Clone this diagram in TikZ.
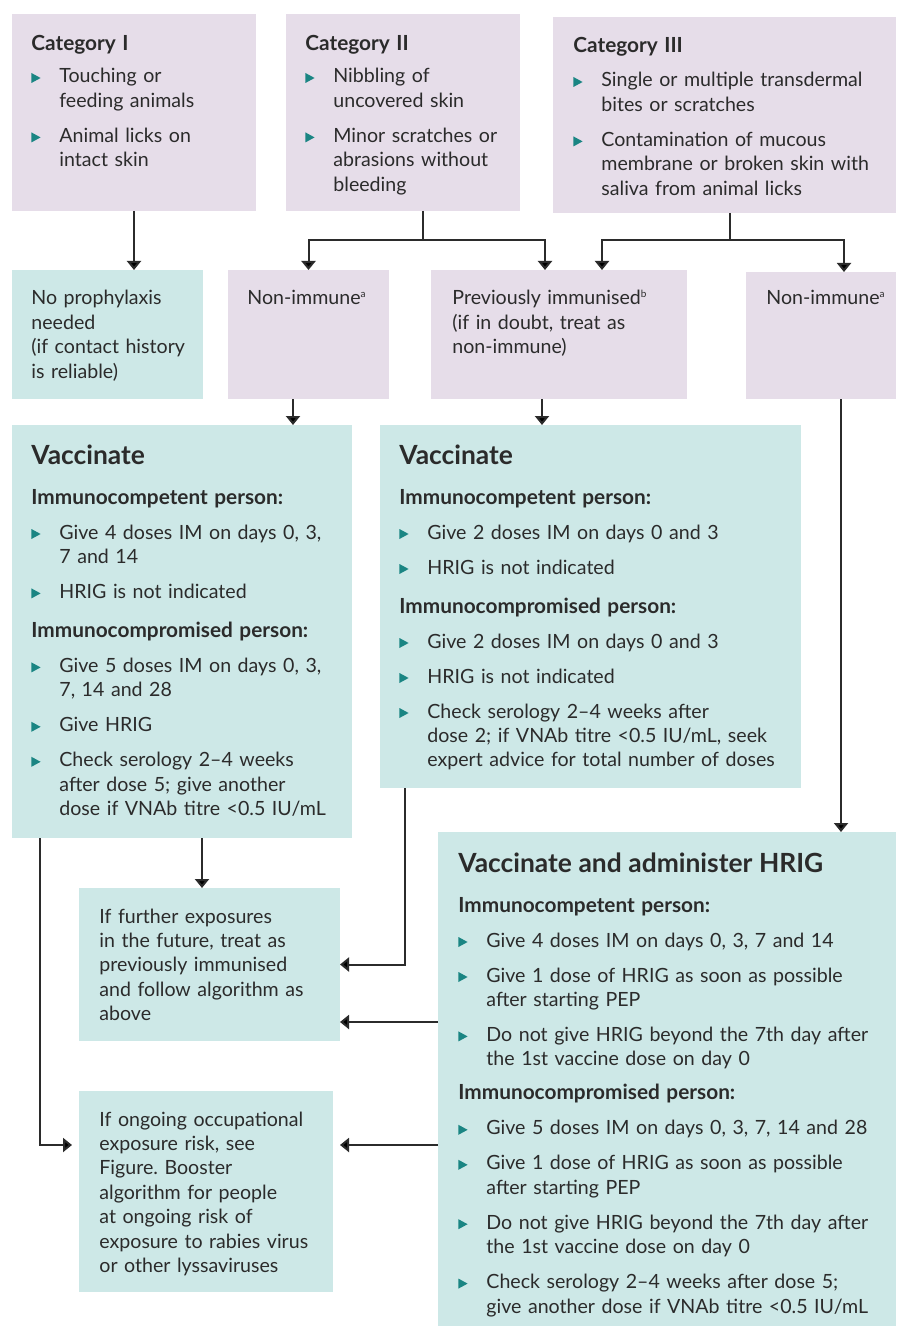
\documentclass[tikz,border=0pt]{standalone}
\usepackage{fontspec}
\setmainfont{Lato}
\usetikzlibrary{arrows.meta}
\frenchspacing

\definecolor{lilac}{HTML}{E6DDE9}
\definecolor{mint}{HTML}{CDE8E7}
\definecolor{bulcol}{HTML}{1A8583}
\definecolor{ink}{HTML}{2B2B2B}

% bullet and list helpers
\newcommand\bul{\tikz\fill[bulcol] (0pt,0pt) -- (0pt,5pt) -- (4.6pt,2.5pt) -- cycle;}
\newcommand\itm[2][5.3pt]{\par\vspace{#1}\noindent\hangindent=14pt\hangafter=1\makebox[14pt][l]{\bul}{\let\\\newline #2}\par}
\newcommand\bftitle[1]{{\fontsize{10.4}{12.2}\selectfont\bfseries #1}}
\newcommand\sub[2][7.3pt]{\par\vspace{#1}\noindent\bftitle{#2}\par}
\newcommand\head[1]{\noindent{\fontsize{13.2}{14}\selectfont\bfseries #1}\par}

\tikzset{
  lbox/.style={fill=lilac, anchor=north west, inner sep=0pt, outer sep=0pt},
  tbox/.style={fill=mint, anchor=north west, inner sep=0pt, outer sep=0pt},
  txt/.style={anchor=base west, inner sep=0pt, text=ink,
    font=\fontsize{9.8}{12.2}\selectfont\frenchspacing, execute at begin node=\raggedright},
  arr/.style={draw=ink, line width=1pt, -{Triangle[width=7pt,length=4.5pt]}},
  line/.style={draw=ink, line width=1pt}
}

\begin{document}
\begin{tikzpicture}[x=0.5pt, y=-0.5pt]
  \useasboundingbox[fill=white] (0,0) rectangle (896,1326);

  % Categories
  \node[lbox, minimum width=122pt, minimum height=98.5pt] (cat1) at (12,14) {};
  \node[txt, text width=112pt] (cat1t) at ([shift={(19,37)}]cat1.north west)
    {\bftitle{Category I}
     \itm[3.8pt]{Touching or\\feeding animals}
     \itm{Animal licks on\\intact skin}};

  \node[lbox, minimum width=117pt, minimum height=98.5pt] (cat2) at (286,14) {};
  \node[txt, text width=108pt] (cat2t) at ([shift={(19,37)}]cat2.north west)
    {\bftitle{Category II}
     \itm[3.8pt]{Nibbling of\\uncovered skin}
     \itm{Minor scratches or\\abrasions without\\bleeding}};

  \node[lbox, minimum width=171.5pt, minimum height=98pt] (cat3) at (553,17) {};
  \node[txt, text width=160pt] (cat3t) at ([shift={(20,36)}]cat3.north west)
    {\bftitle{Category III}
     \itm[4.8pt]{Single or multiple transdermal\\bites or scratches}
     \itm{Contamination of mucous\\membrane or broken skin with\\saliva from animal licks}};

  % Immune status
  \node[tbox, minimum width=95.5pt, minimum height=64.5pt] (nopro) at (12,270) {};
  \node[txt, text width=88pt] (noprot) at ([shift={(19,35)}]nopro.north west)
    {No prophylaxis\\needed\\(if contact history\\is reliable)};

  \node[lbox, minimum width=80.5pt, minimum height=64.5pt] (nonL) at (228,270) {};
  \node[txt, text width=70pt] (nonLt) at ([shift={(19,35)}]nonL.north west)
    {Non-immune\textsuperscript{\tiny a}};

  \node[lbox, minimum width=128pt, minimum height=64.5pt] (prev) at (431,270) {};
  \node[txt, text width=118pt] (prevt) at ([shift={(21,35)}]prev.north west)
    {Previously immunised\textsuperscript{\tiny b}\\(if in doubt, treat as\\non-immune)};

  \node[lbox, minimum width=75pt, minimum height=63.5pt] (nonR) at (746,272) {};
  \node[txt, text width=66pt] (nonRt) at ([shift={(20,33)}]nonR.north west)
    {Non-immune\textsuperscript{\tiny a}};

  % Treatment
  \node[tbox, minimum width=170pt, minimum height=206.5pt] (vaccL) at (12,425) {};
  \node[txt, text width=160pt] (vaccLt) at ([shift={(19,39)}]vaccL.north west)
    {\head{Vaccinate}
     \sub[7.8pt]{Immunocompetent person:}
     \itm{Give 4 doses IM on days 0, 3,\\7 and 14}
     \itm{HRIG is not indicated}
     \sub{Immunocompromised person:}
     \itm{Give 5 doses IM on days 0, 3,\\7, 14 and 28}
     \itm{Give HRIG}
     \itm{Check serology 2–4 weeks\\after dose 5; give another\\dose if VNAb titre <0.5 IU/mL}};

  \node[tbox, minimum width=210.5pt, minimum height=181.5pt] (vaccM) at (380,425) {};
  \node[txt, text width=200pt] (vaccMt) at ([shift={(19,39)}]vaccM.north west)
    {\head{Vaccinate}
     \sub[7.8pt]{Immunocompetent person:}
     \itm{Give 2 doses IM on days 0 and 3}
     \itm{HRIG is not indicated}
     \sub{Immunocompromised person:}
     \itm{Give 2 doses IM on days 0 and 3}
     \itm{HRIG is not indicated}
     \itm{Check serology 2–4 weeks after\\dose 2; if VNAb titre <0.5 IU/mL, seek\\expert advice for total number of doses}};

  \node[tbox, minimum width=229pt, minimum height=247pt] (hrig) at (438,832) {};
  \node[txt, text width=220pt] (hrigt) at ([shift={(20,40)}]hrig.north west)
    {\head{Vaccinate and administer HRIG}
     \sub[7.8pt]{Immunocompetent person:}
     \itm{Give 4 doses IM on days 0, 3, 7 and 14}
     \itm{Give 1 dose of HRIG as soon as possible\\after starting PEP}
     \itm{Do not give HRIG beyond the 7th day after\\the 1st vaccine dose on day 0}
     \sub[4.8pt]{Immunocompromised person:}
     \itm{Give 5 doses IM on days 0, 3, 7, 14 and 28}
     \itm{Give 1 dose of HRIG as soon as possible\\after starting PEP}
     \itm{Do not give HRIG beyond the 7th day after\\the 1st vaccine dose on day 0}
     \itm{Check serology 2–4 weeks after dose 5;\\give another dose if VNAb titre <0.5 IU/mL}};

  % Follow-up
  \node[tbox, minimum width=130.5pt, minimum height=76.5pt] (further) at (79,888) {};
  \node[txt, text width=120pt] (furthert) at ([shift={(20,35)}]further.north west)
    {If further exposures\\in the future, treat as\\previously immunised\\and follow algorithm as\\above};

  \node[tbox, minimum width=127pt, minimum height=100.5pt] (ongoing) at (79,1091) {};
  \node[txt, text width=120pt] (ongoingt) at ([shift={(20,35)}]ongoing.north west)
    {If ongoing occupational\\exposure risk, see\\Figure. Booster\\algorithm for people\\at ongoing risk of\\exposure to rabies virus\\or other lyssaviruses};

  % Connectors
  \draw[arr] (cat1.south) -- (cat1.south |- nopro.north);

  \coordinate (j2) at (423,240);
  \draw[line] (cat2.south -| j2) -- (j2);
  \draw[arr] (j2) -| (nonL.north);
  \draw[arr] (j2) -| ([xshift=57pt]prev.north west);

  \coordinate (j3) at (730,240);
  \draw[line] (cat3.south -| j3) -- (j3);
  \draw[arr] (j3) -| ([xshift=85.5pt]prev.north west);
  \draw[arr] (j3) -| ([xshift=49pt]nonR.north west);

  \coordinate (d1) at ([xshift=-7.75pt]nonL.south);
  \coordinate (d2) at ([xshift=55.5pt]prev.south west);
  \coordinate (d3) at ([xshift=47.5pt]nonR.south west);
  \coordinate (d4) at ([xshift=14pt]vaccL.south west);
  \coordinate (d5) at ([xshift=95pt]vaccL.south west);
  \coordinate (d6) at ([xshift=12.5pt]vaccM.south west);
  \coordinate (h1) at ([yshift=-95pt]hrig.north west);
  \coordinate (h2) at ([yshift=-156.5pt]hrig.north west);

  \draw[arr] (d1) -- (d1 |- vaccL.north);
  \draw[arr] (d2) -- (d2 |- vaccM.north);
  \draw[arr] (d3) -- (d3 |- hrig.north);
  \draw[arr] (d5) -- (d5 |- further.north);
  \draw[arr] (d6) |- (further.east);
  \draw[arr, shorten >=3.5pt] (d4) |- (h2 -| ongoing.west);
  \draw[arr] (h1) -- (h1 -| further.east);
  \draw[arr] (h2) -- (h2 -| further.east);
\end{tikzpicture}
\end{document}
